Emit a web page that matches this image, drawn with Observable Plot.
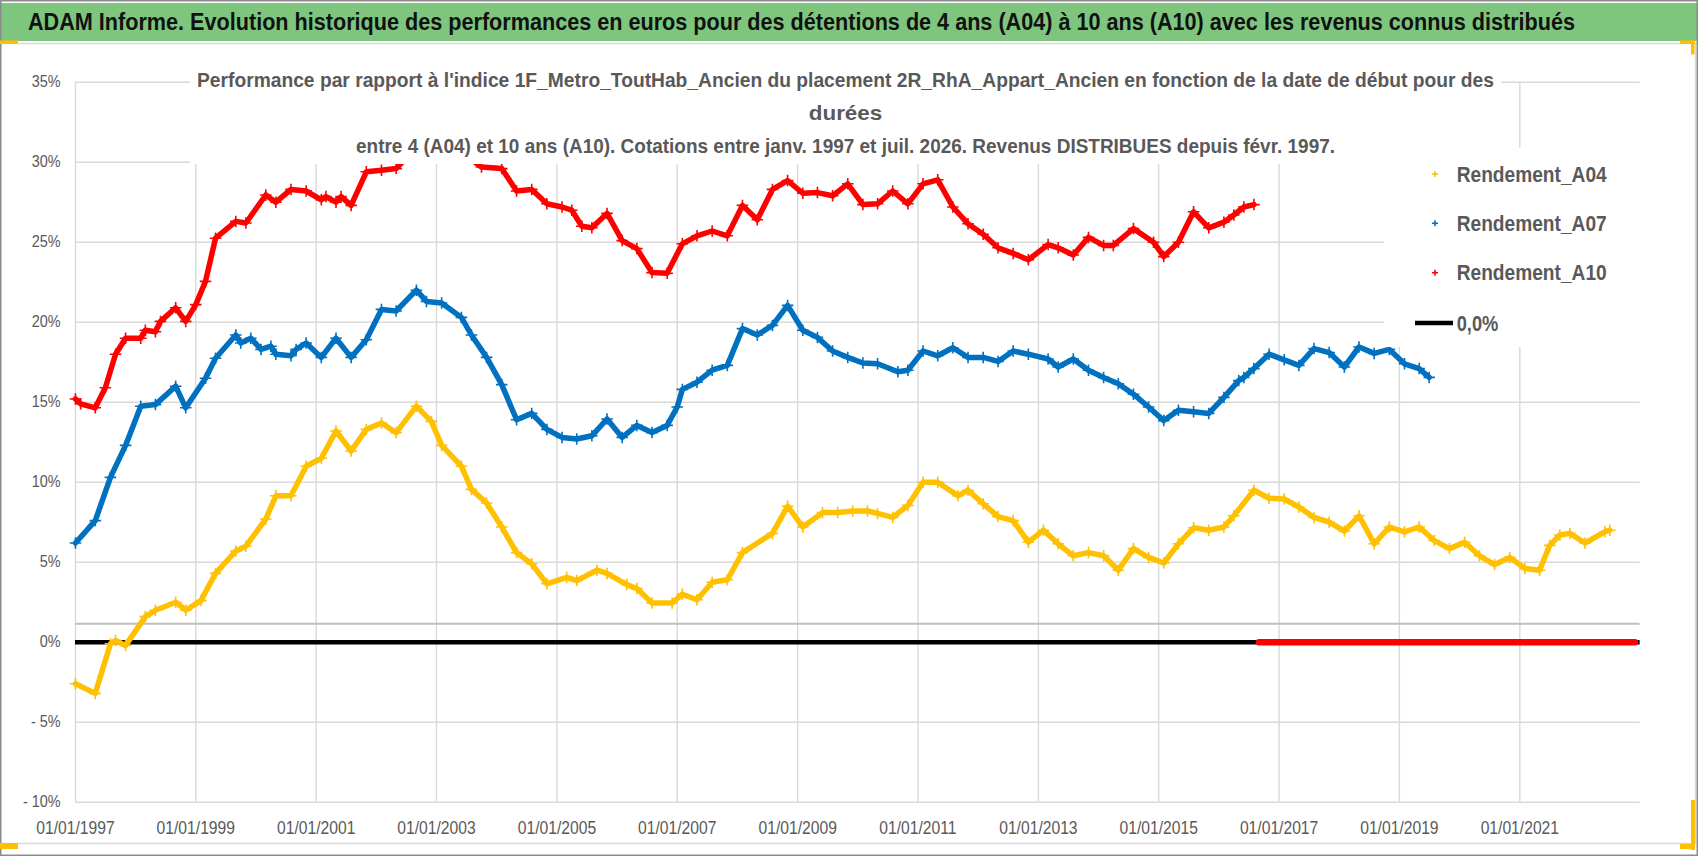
<!DOCTYPE html>
<html><head><meta charset="utf-8">
<script src="https://cdn.jsdelivr.net/npm/d3@7"></script>
<script src="https://cdn.jsdelivr.net/npm/@observablehq/plot@0.6"></script>
<style>
body{margin:0;background:#fff;}
#wrap{position:relative;width:1698px;height:856px;overflow:hidden;background:#fff;font-family:"Liberation Sans",Arial,sans-serif;}
#titlebar{position:absolute;left:0;top:0;width:1698px;height:43px;background:#fff;}
#titlebar .bar{position:absolute;left:0;top:3px;width:1698px;height:38px;background:#7ec67e;}
#titlebar .txt{position:absolute;left:28px;top:7px;white-space:nowrap;font-size:23.5px;font-weight:bold;color:#111;line-height:30px;transform-origin:0 0;}
#chart{position:absolute;left:0;top:43px;}
#overlay{position:absolute;left:0;top:0;pointer-events:none;}
</style></head><body>
<div id="wrap">
  <div id="titlebar"><div class="bar"></div><div class="txt" id="titletxt"></div></div>
  <div id="chart"></div>
  <svg id="overlay" width="1698" height="856"></svg>
</div>
<script>
// ---------- data ----------
const titleText = "ADAM Informe. Evolution historique des performances en euros pour des détentions de 4 ans (A04) à 10 ans (A10) avec les revenus connus distribués";
const subtitleLines = [
  "Performance par rapport à l'indice 1F_Metro_ToutHab_Ancien  du placement 2R_RhA_Appart_Ancien en fonction de la date de début pour des",
  "durées",
  "entre 4 (A04) et 10 ans (A10). Cotations entre janv. 1997 et juil. 2026. Revenus DISTRIBUES depuis févr. 1997."
];
const seriesNames = ["Rendement_A04", "Rendement_A07", "Rendement_A10"];
const seriesColors = ["#ffc000", "#0070c0", "#ff0000"];
const refLineLabel = "0,0%";

const datesA04 = ["1997-01","1997-05","1997-08","1997-09","1997-11","1998-03","1998-05","1998-09","1998-11","1999-02","1999-05","1999-09","1999-11","2000-03","2000-05","2000-08","2000-11","2001-02","2001-05","2001-08","2001-11","2002-02","2002-05","2002-09","2002-12","2003-02","2003-06","2003-08","2003-11","2004-02","2004-05","2004-08","2004-11","2005-03","2005-05","2005-09","2005-11","2006-03","2006-05","2006-08","2006-12","2007-02","2007-05","2007-08","2007-11","2008-02","2008-08","2008-11","2009-02","2009-06","2009-09","2009-12","2010-03","2010-05","2010-08","2010-11","2011-02","2011-05","2011-09","2011-11","2012-02","2012-05","2012-08","2012-11","2013-02","2013-05","2013-08","2013-11","2014-02","2014-05","2014-08","2014-11","2015-02","2015-05","2015-08","2015-11","2016-02","2016-04","2016-08","2016-11","2017-02","2017-05","2017-08","2017-11","2018-02","2018-05","2018-08","2018-11","2019-02","2019-05","2019-08","2019-11","2020-02","2020-05","2020-08","2020-11","2021-02","2021-05","2021-07","2021-09","2021-11","2022-02","2022-06","2022-07"];
const valuesA04 = [-2.6,-3.2,-0.1,0.1,-0.2,1.6,2.0,2.5,2.0,2.6,4.3,5.7,6.0,7.7,9.15,9.15,11.0,11.5,13.2,11.95,13.3,13.7,13.1,14.75,13.8,12.3,11.0,9.55,8.7,7.2,5.6,4.9,3.65,4.05,3.85,4.5,4.3,3.6,3.35,2.45,2.45,3.0,2.65,3.75,3.9,5.6,6.8,8.5,7.2,8.1,8.1,8.2,8.2,8.05,7.8,8.55,10.0,10.0,9.15,9.5,8.65,7.85,7.6,6.25,7.0,6.15,5.4,5.6,5.4,4.5,5.85,5.3,4.95,6.15,7.15,7.0,7.2,7.9,9.5,9.0,8.95,8.45,7.8,7.5,6.95,7.9,6.15,7.2,6.9,7.2,6.35,5.85,6.25,5.4,4.85,5.3,4.6,4.5,6.05,6.7,6.8,6.2,6.9,7.0];

const datesA07 = ["1997-01","1997-05","1997-08","1997-11","1998-02","1998-05","1998-09","1998-11","1999-03","1999-05","1999-09","1999-10","1999-12","2000-02","2000-04","2000-05","2000-08","2000-09","2000-11","2001-02","2001-05","2001-08","2001-11","2002-02","2002-05","2002-09","2002-11","2003-02","2003-06","2003-08","2003-11","2004-02","2004-05","2004-08","2004-11","2005-02","2005-05","2005-08","2005-11","2006-02","2006-05","2006-08","2006-11","2007-01","2007-02","2007-05","2007-08","2007-11","2008-02","2008-05","2008-08","2008-11","2009-02","2009-05","2009-08","2009-11","2010-02","2010-05","2010-09","2010-11","2011-02","2011-05","2011-08","2011-11","2012-02","2012-05","2012-08","2012-11","2013-03","2013-05","2013-08","2013-11","2014-02","2014-05","2014-08","2014-11","2015-02","2015-05","2015-08","2015-11","2016-02","2016-05","2016-06","2016-08","2016-11","2017-02","2017-05","2017-08","2017-11","2018-02","2018-05","2018-08","2018-11","2019-02","2019-05","2019-07"];
const valuesA07 = [6.2,7.6,10.3,12.3,14.75,14.85,16.0,14.65,16.5,17.75,19.2,18.7,19.0,18.3,18.5,18.0,17.9,18.3,18.7,17.8,19.0,17.8,18.9,20.8,20.7,22.0,21.3,21.2,20.3,19.2,17.8,16.1,13.9,14.3,13.3,12.8,12.7,12.9,13.95,12.8,13.55,13.1,13.55,14.7,15.8,16.25,17.0,17.3,19.6,19.2,19.8,21.05,19.5,19.05,18.2,17.8,17.45,17.4,16.9,17.0,18.2,17.9,18.4,17.8,17.8,17.55,18.2,18.0,17.7,17.2,17.7,17.0,16.55,16.15,15.5,14.7,13.85,14.5,14.4,14.3,15.3,16.35,16.55,17.1,18.0,17.65,17.3,18.35,18.1,17.2,18.45,18.05,18.3,17.4,17.1,16.55];

const datesA10 = ["1997-01","1997-02","1997-05","1997-07","1997-09","1997-11","1998-02","1998-03","1998-05","1998-06","1998-09","1998-11","1999-01","1999-03","1999-05","1999-09","1999-11","2000-03","2000-05","2000-08","2000-11","2001-02","2001-03","2001-05","2001-06","2001-08","2001-11","2002-02","2002-05","2002-08","2002-12","2003-04","2003-07","2003-10","2004-02","2004-05","2004-08","2004-11","2005-02","2005-04","2005-06","2005-08","2005-11","2006-02","2006-05","2006-08","2006-11","2007-02","2007-05","2007-08","2007-11","2008-02","2008-05","2008-08","2008-11","2009-02","2009-05","2009-08","2009-11","2010-02","2010-05","2010-08","2010-11","2011-02","2011-05","2011-08","2011-11","2012-02","2012-05","2012-08","2012-11","2013-03","2013-05","2013-08","2013-11","2014-02","2014-04","2014-08","2014-12","2015-02","2015-05","2015-08","2015-11","2016-02","2016-04","2016-06","2016-08"];
const valuesA10 = [15.2,14.9,14.65,15.9,18.0,19.0,19.0,19.5,19.4,20.05,20.9,20.05,21.1,22.55,25.25,26.3,26.2,27.95,27.5,28.3,28.2,27.65,27.85,27.5,27.85,27.3,29.4,29.5,29.6,30.6,31.3,31.0,30.4,29.7,29.6,28.2,28.3,27.4,27.2,27.0,26.0,25.9,26.8,25.1,24.6,23.1,23.06,24.9,25.4,25.7,25.4,27.3,26.4,28.3,28.85,28.06,28.1,27.9,28.65,27.35,27.4,28.2,27.4,28.65,28.9,27.2,26.15,25.5,24.65,24.3,23.9,24.85,24.65,24.2,25.3,24.8,24.8,25.85,25.0,24.1,25.0,26.9,25.9,26.25,26.7,27.2,27.35];
// A10 has no value (plotted as 0) for start dates after Aug. 2016
const zeroDatesA10 = ["2016-09","2022-12"];
const zeroValuesA10 = [0, 0];

const yTicks = [-10,-5,0,5,10,15,20,25,30,35];
const yTickLabels = ["- 10%","- 5%","0%","5%","10%","15%","20%","25%","30%","35%"];
const xTickLabels = ["01/01/1997","01/01/1999","01/01/2001","01/01/2003","01/01/2005","01/01/2007","01/01/2009","01/01/2011","01/01/2013","01/01/2015","01/01/2017","01/01/2019","01/01/2021"];
const xDomain = ["1997-01-01","2023-01-01"];
const referenceValue = 0;
const axisLineValue = 1.16;

// ---------- build ----------
const pm = d3.utcParse("%Y-%m");
const pd = d3.utcParse("%d/%m/%Y");
const toRows = (dates, values, s) => dates.map((d, i) => ({date: pm(d), value: values[i], series: s}));
const rowsA04 = toRows(datesA04, valuesA04, seriesNames[0]);
const rowsA07 = toRows(datesA07, valuesA07, seriesNames[1]);
const rowsA10 = toRows(datesA10, valuesA10, seriesNames[2]);
const rowsZero = toRows(zeroDatesA10, zeroValuesA10, seriesNames[2]);
const xTicks = xTickLabels.map(pd);
const fmtX = d3.utcFormat("%d/%m/%Y");

function seriesMarks(rows, color) {
  return [
    Plot.line(rows, {x: "date", y: "value", stroke: color, strokeWidth: 5.5, strokeLinejoin: "round"}),
    Plot.dot(rows, {x: "date", y: "value", symbol: "plus", r: 3.8, stroke: color, strokeWidth: 1.6})
  ];
}

const chart = Plot.plot({
  width: 1698, height: 813,
  marginLeft: 75, marginRight: 58.4, marginTop: 38.7, marginBottom: 54.3,
  style: {fontFamily: "Liberation Sans, Arial, sans-serif", background: "transparent", color: "#595959", overflow: "visible"},
  x: {type: "utc", domain: xDomain.map(d => d3.utcParse("%Y-%m-%d")(d))},
  y: {domain: [yTicks[0], yTicks[yTicks.length - 1]]},
  marks: [
    Plot.ruleY(yTicks, {stroke: "#d9d9d9", strokeWidth: 1.4}),
    Plot.ruleX(xTicks, {stroke: "#d9d9d9", strokeWidth: 1.4}),
    Plot.ruleY([axisLineValue], {stroke: "#bfbfbf", strokeWidth: 2}),
    Plot.axisY({ticks: yTicks, tickFormat: d => yTickLabels[yTicks.indexOf(d)], tickSize: 0, tickPadding: 15, fontSize: 16, label: null}),
    Plot.axisX({ticks: xTicks, tickFormat: d => xTickLabels[xTicks.findIndex(t => +t === +d)] ?? fmtX(d), tickSize: 0, tickPadding: 19, fontSize: 18, label: null}),
    Plot.ruleY([referenceValue], {stroke: "#000", strokeWidth: 4.5}),
    ...seriesMarks(rowsA04, seriesColors[0]),
    ...seriesMarks(rowsA07, seriesColors[1]),
    ...seriesMarks(rowsA10, seriesColors[2]),
    Plot.line(rowsZero, {x: "date", y: "value", stroke: seriesColors[2], strokeWidth: 6.5})
  ]
});
document.getElementById("chart").appendChild(chart);

// condense tick labels (narrow font look)
chart.querySelectorAll('g[aria-label="y-axis tick label"] text').forEach(t => {
  const w = t.getComputedTextLength(); t.setAttribute("textLength", w * 0.9); t.setAttribute("lengthAdjust", "spacingAndGlyphs");
});
chart.querySelectorAll('g[aria-label="x-axis tick label"] text').forEach(t => {
  const w = t.getComputedTextLength(); t.setAttribute("textLength", w * 0.87); t.setAttribute("lengthAdjust", "spacingAndGlyphs");
});

// ---------- title bar (HTML text, horizontally condensed to fit) ----------
const tt = document.getElementById("titletxt");
tt.textContent = titleText;
const natural = tt.scrollWidth;
tt.style.transform = `scaleX(${1547 / natural})`;

// ---------- overlay: subtitle box, legend, frame ----------
const ov = d3.select("#overlay");
ov.append("rect").attr("x", 190).attr("y", 56).attr("width", 1311).attr("height", 108).attr("fill", "#fff");
const subBase = [87.3, 120, 152.7];
const subLen = [1297, 73.5, 979];
subtitleLines.forEach((s, i) => {
  ov.append("text").attr("x", 845.5).attr("y", subBase[i]).attr("text-anchor", "middle")
    .attr("font-size", 20.5).attr("font-weight", "bold").attr("fill", "#595959")
    .attr("textLength", subLen[i]).attr("lengthAdjust", "spacingAndGlyphs").text(s);
});
// legend
ov.append("rect").attr("x", 1384).attr("y", 148).attr("width", 270).attr("height", 199).attr("fill", "#fff");
const legMarkY = [174, 223.3, 272.7];
const legBase = [182, 231, 280];
seriesNames.forEach((name, i) => {
  const g = ov.append("g").attr("stroke", seriesColors[i]).attr("stroke-width", 1.6);
  g.append("line").attr("x1", 1432).attr("x2", 1438).attr("y1", legMarkY[i]).attr("y2", legMarkY[i]);
  g.append("line").attr("x1", 1435).attr("x2", 1435).attr("y1", legMarkY[i] - 3).attr("y2", legMarkY[i] + 3);
  ov.append("text").attr("x", 1456.7).attr("y", legBase[i]).attr("font-size", 22).attr("font-weight", "bold")
    .attr("fill", "#595959").attr("textLength", 150).attr("lengthAdjust", "spacingAndGlyphs").text(name);
});
ov.append("line").attr("x1", 1415).attr("x2", 1453).attr("y1", 323).attr("y2", 323).attr("stroke", "#000").attr("stroke-width", 4.5);
ov.append("text").attr("x", 1456.7).attr("y", 331).attr("font-size", 22).attr("font-weight", "bold")
  .attr("fill", "#595959").attr("textLength", 41.7).attr("lengthAdjust", "spacingAndGlyphs").text(refLineLabel);

// chart-area border and outer frame
ov.append("line").attr("x1", 0).attr("x2", 1698).attr("y1", 43.5).attr("y2", 43.5).attr("stroke", "#d9d9d9").attr("stroke-width", 1.5);
ov.append("line").attr("x1", 0).attr("x2", 1698).attr("y1", 843.5).attr("y2", 843.5).attr("stroke", "#d9d9d9").attr("stroke-width", 1.5);
ov.append("line").attr("x1", 1695.5).attr("x2", 1695.5).attr("y1", 43).attr("y2", 844).attr("stroke", "#d9d9d9").attr("stroke-width", 1.5);
ov.append("rect").attr("x", 0.75).attr("y", 0.75).attr("width", 1696.5).attr("height", 854.5).attr("fill", "none").attr("stroke", "#8c8c8c").attr("stroke-width", 1.5);
// selection handles
const hy = "#ffc000";
[[0,40.5,18,3.5],[1680,40.5,15,3.5],[1691,40.5,3.5,14],[0,843,18,6],[1680,844,15,5],[1691,800,4,50]].forEach(r => {
  ov.append("rect").attr("x", r[0]).attr("y", r[1]).attr("width", r[2]).attr("height", r[3]).attr("fill", hy);
});
</script>
</body></html>
